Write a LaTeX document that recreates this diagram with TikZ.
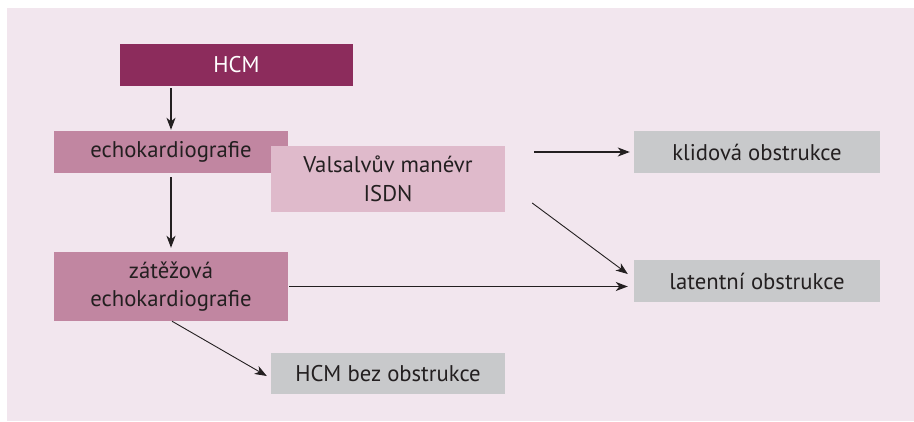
\documentclass[tikz,border=0pt]{standalone}
\usepackage{fontspec}
\setmainfont{PT Sans}
\usetikzlibrary{arrows.meta}
\definecolor{bgpink}{HTML}{F2E6EE}
\definecolor{hcmred}{HTML}{8C2C5C}
\definecolor{echopink}{HTML}{C186A1}
\definecolor{testpink}{HTML}{DFBACB}
\definecolor{resgray}{HTML}{C8C9CB}
\definecolor{inkdark}{HTML}{231F20}
\begin{document}
\begin{tikzpicture}[x=1pt,y=-1pt,
	box/.style={inner sep=0pt,minimum width=234pt,minimum height=42pt,align=center,
		text=inkdark,font=\fontsize{22.7}{28.5}\selectfont},
	result/.style={box,fill=resgray,minimum width=246pt},
	arr/.style={->,>={Stealth[length=12pt,width=9pt,inset=3.5pt]},draw=inkdark,line width=1.3pt},
	thinarr/.style={arr,line width=0.9pt}]
	\useasboundingbox (0,0) rectangle (914,421) ;
	\fill[bgpink] (7,8) rectangle (914,421) ;
	% boxes
	\node[box,fill=hcmred,text=white,minimum width=233pt] (hcm) at (236.5,65) {HCM} ;
	\node[box,fill=echopink] (echo) at (171,152) {echokardiografie} ;
	\node[box,fill=testpink,minimum height=66pt] (valsalva) at (388,179) {Valsalvův manévr\\ISDN} ;
	\node[box,fill=echopink,minimum height=69pt] (stress) at (171,286.5) {zátěžová\\echokardiografie} ;
	\node[box,fill=resgray,minimum height=41pt] (noobst) at (388,373.5) {HCM bez obstrukce} ;
	\node[result] (rest) at (757,152) {klidová obstrukce} ;
	\node[result] (latent) at (757,281) {latentní obstrukce} ;
	% arrows
	\draw[arr,shorten <=2pt,shorten >=1pt] (hcm.south -| echo.north) -- (echo.north) ;
	\draw[arr,shorten <=4pt,shorten >=4pt] (echo.south) -- (stress.north) ;
	\draw[arr,shorten <=29pt,shorten >=4pt] (valsalva.east |- rest.west) -- (rest.west) ;
	\draw[thinarr] ([xshift=27pt,yshift=-24pt]valsalva.east) -- ([xshift=-6pt,yshift=7pt]latent.west) ;
	\draw[arr,shorten <=1pt,shorten >=6pt] (stress.east) -- (stress.east -| latent.west) ;
	\draw[thinarr] ([xshift=1pt]stress.south) -- ([xshift=-4pt,yshift=-2.5pt]noobst.west) ;
\end{tikzpicture}
\end{document}
